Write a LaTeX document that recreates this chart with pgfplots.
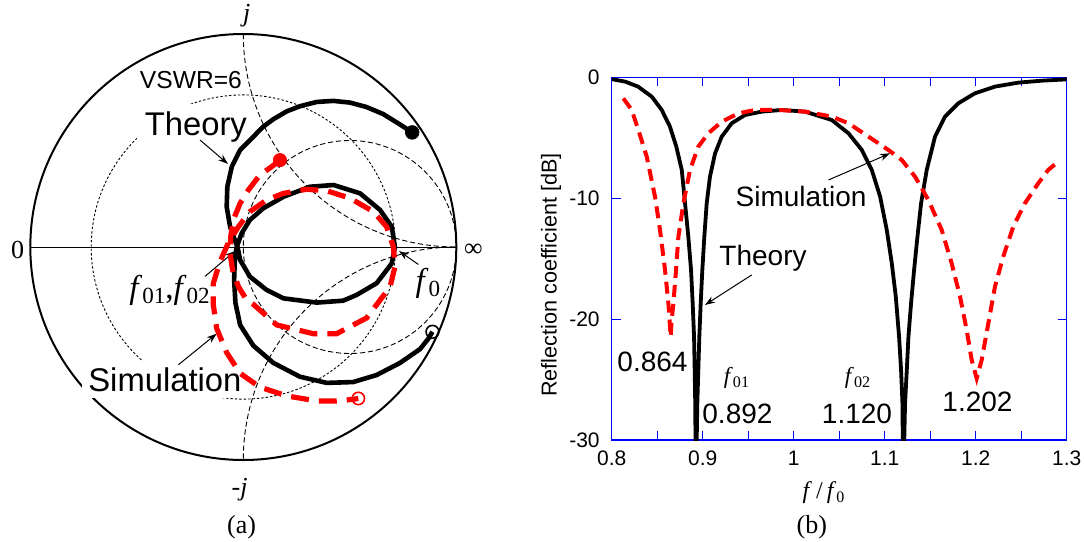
\documentclass[border=0pt]{standalone}
\usepackage{fontspec}
\setmainfont{Liberation Sans}
\newfontfamily\serif{Liberation Serif}
\usepackage{pgfplots}
\pgfplotsset{compat=1.18}
\usetikzlibrary{arrows.meta}
\newcommand{\fsz}[1]{\fontsize{#1}{#1}\selectfont}

\begin{document}
\begin{tikzpicture}
\path[use as bounding box] (0pt,0pt) rectangle (542pt,-271pt);

% ---------------- (a) Smith chart ----------------
\begin{axis}[at={(121.65pt,-123.5pt)}, anchor=origin,
  x=106.5pt, y=106.5pt, xmin=-1.1, xmax=1.1, ymin=-1.1, ymax=1.1,
  hide axis, clip=false]
  \draw[line width=1pt] (axis cs:0,0) circle[radius=106.5pt];
  \draw[line width=0.5pt] (axis cs:-1,0) -- (axis cs:1,0);
  \draw[line width=0.45pt, dash pattern=on 2.6pt off 1.4pt] (axis cs:0,1) arc[start angle=180,end angle=270,radius=106.5pt];
  \draw[line width=0.45pt, dash pattern=on 2.6pt off 1.4pt] (axis cs:1,0) arc[start angle=90,end angle=180,radius=106.5pt];
  \draw[line width=0.45pt, dash pattern=on 2.6pt off 1.4pt] (axis cs:0.5,0) circle[radius=53.25pt];
  \draw[line width=0.45pt, dash pattern=on 1.2pt off 1pt] (axis cs:0,0) circle[radius=76.05pt];

  \node[font=\serif\fsz{13}\itshape] at (axis cs:0.016,1.086) {j};
  \node[font=\serif\fsz{13}] at (axis cs:-0.017,-1.141) {-\textit{j}};
  \node[font=\serif\fsz{13}] at (axis cs:-1.059,-0.014) {0};
  \node[font=\serif\fsz{13}] at (axis cs:1.080,-0.017) {∞};
  \node[font=\serif\fsz{13}] at (axis cs:-0.008,-1.315) {(a)};
  \node[font=\fsz{12.3}, inner sep=1pt] at (axis cs:-0.246,0.784) {VSWR=6};
  \node[font=\fsz{16.4}, fill=white, inner sep=4pt] at (axis cs:-0.223,0.564) {Theory};
  \node[font=\fsz{16.4}, fill=white, inner sep=3pt] at (axis cs:-0.368,-0.622) {Simulation};
  \node[font=\serif\fsz{16.5}] at (axis cs:-0.344,-0.202) {\textit{f}\textsubscript{01}\kern-0.5pt,\textit{f}\textsubscript{02}};
  \node[font=\serif\fsz{16.5}] at (axis cs:0.869,-0.171) {\textit{f}\textsubscript{0}};

  \draw[-{Stealth[length=5pt,width=3.5pt]}, line width=0.5pt] (axis cs:-0.203,0.502) -- (axis cs:-0.072,0.390);
  \draw[-{Stealth[length=5pt,width=3.5pt]}, line width=0.5pt] (axis cs:-0.305,-0.553) -- (axis cs:-0.125,-0.407);
  \draw[-{Stealth[length=5pt,width=3.5pt]}, line width=0.5pt] (axis cs:-0.180,-0.138) -- (axis cs:-0.039,-0.019);
  \draw[-{Stealth[length=5pt,width=3.5pt]}, line width=0.5pt] (axis cs:0.822,-0.082) -- (axis cs:0.731,-0.019);

  % Theory
  \addplot[black, line width=2.3pt, line join=round] coordinates {
    (0.793,0.538) (0.736,0.575) (0.657,0.624) (0.579,0.657) (0.501,0.678)
    (0.423,0.686) (0.345,0.681) (0.266,0.661) (0.204,0.637) (0.141,0.600)
    (0.094,0.565) (0.063,0.534) (0.020,0.490) (-0.015,0.455) (-0.054,0.377)
    (-0.075,0.283) (-0.078,0.189) (-0.062,0.095) (-0.034,0.017) (-0.027,0.0)
    (-0.015,-0.061) (0.031,-0.139) (0.110,-0.202) (0.188,-0.241) (0.345,-0.261)
    (0.469,-0.252) (0.532,-0.225) (0.626,-0.170) (0.697,-0.077) (0.712,0.0)
    (0.697,0.095) (0.642,0.174) (0.548,0.252) (0.424,0.291) (0.313,0.283)
    (0.189,0.236) (0.094,0.182) (0.031,0.127) (-0.008,0.064) (-0.031,0.0)
    (-0.040,-0.060) (-0.043,-0.155) (-0.037,-0.262) (-0.015,-0.366) (0.047,-0.463)
    (0.141,-0.544) (0.266,-0.609) (0.392,-0.638) (0.516,-0.634) (0.626,-0.601)
    (0.736,-0.544) (0.830,-0.479) (0.869,-0.430) (0.888,-0.398)
  };
  % Simulation
  \addplot[red, line width=2.6pt, dash pattern=on 9pt off 5pt] coordinates {
    (0.172,0.408) (0.133,0.377) (0.078,0.338) (0.024,0.268) (-0.015,0.205)
    (-0.047,0.127) (-0.059,0.048) (-0.062,-0.030) (-0.050,-0.108) (-0.023,-0.186)
    (0.016,-0.249) (0.047,-0.269) (0.157,-0.366) (0.329,-0.407) (0.438,-0.407)
    (0.579,-0.333) (0.689,-0.187) (0.712,-0.092) (0.705,0.0) (0.673,0.095)
    (0.611,0.166) (0.501,0.229) (0.392,0.264) (0.297,0.271) (0.189,0.252)
    (0.110,0.221) (0.031,0.166) (-0.023,0.095) (-0.070,0.020) (-0.110,-0.070)
    (-0.141,-0.171) (-0.141,-0.269) (-0.125,-0.382) (-0.078,-0.496) (-0.015,-0.593)
    (0.078,-0.658) (0.204,-0.699) (0.345,-0.723) (0.438,-0.723) (0.516,-0.715)
    (0.540,-0.711)
  };
  \addplot[only marks, mark=*, mark size=3.4pt, black] coordinates {(0.793,0.538)};
  \addplot[only marks, mark=o, mark size=3.2pt, black, mark options={fill=white, line width=0.8pt}] coordinates {(0.888,-0.398)};
  \addplot[only marks, mark=*, mark size=3.3pt, red] coordinates {(0.172,0.408)};
  \addplot[only marks, mark=o, mark size=3.1pt, red, mark options={fill=white, line width=0.8pt}] coordinates {(0.540,-0.711)};
\end{axis}

% ---------------- (b) Reflection coefficient ----------------
\begin{axis}[at={(305.85pt,-220pt)}, anchor=south west, scale only axis,
  width=227.5pt, height=181.35pt,
  xmin=0.8, xmax=1.3, ymin=-30, ymax=0,
  xtick={0.8,0.9,1,1.1,1.2,1.3}, xticklabels={0.8,0.9,1,1.1,1.2,1.3},
  minor xtick={0.85,0.95,1.05,1.15,1.25},
  ytick={-30,-20,-10,0}, yticklabels={-30,-20,-10,0},
  major tick length=4.5pt, minor tick length=4.5pt, tick align=inside,
  axis line style={blue, line width=0.6pt},
  tick style={blue, line width=0.6pt},
  minor tick style={blue, line width=0.6pt},
  ticklabel style={font=\fsz{10.5}, text=black},
  xticklabel style={yshift=-2pt},
  yticklabel style={xshift=-2.5pt},
  xlabel={\serif\fsz{12}\textit{f}\,/\,\textit{f}\textsubscript{0}},
  xlabel style={at={(axis description cs:0.4666,-0.146)}, anchor=center},
  ylabel={Reflection coefficient [dB]},
  ylabel style={at={(axis description cs:-0.1334,0.455)}, anchor=center, font=\fsz{10.8}},
  clip mode=individual]
  \addplot[black, line width=1.9pt, line join=round] coordinates {
    (0.800,-0.15) (0.815,-0.36) (0.829,-0.77) (0.844,-1.60) (0.855,-2.70)
    (0.864,-4.08) (0.871,-5.73) (0.877,-7.66) (0.8806,-10.42) (0.8842,-13.18)
    (0.8872,-15.94) (0.889,-18.69) (0.8905,-21.45) (0.8912,-24.2) (0.8918,-26.96)
    (0.8922,-31) (0.8932,-31) (0.8941,-26.96) (0.8952,-24.2) (0.8963,-21.45)
    (0.8978,-18.69) (0.8996,-15.94) (0.9018,-13.18) (0.9044,-10.42) (0.908,-8.22)
    (0.9136,-6.29) (0.9209,-4.91) (0.9319,-3.80) (0.9465,-3.12) (0.9648,-2.84)
    (0.9868,-2.70) (1.0125,-2.84) (1.0418,-3.53) (1.0602,-4.63) (1.0749,-6.01)
    (1.0858,-7.66) (1.095,-9.87) (1.1023,-12.63) (1.1078,-15.38) (1.1122,-18.14)
    (1.1158,-21.45) (1.118,-24.2) (1.1195,-26.96) (1.1200,-31) (1.1212,-31)
    (1.1224,-26.96) (1.1243,-24.2) (1.1261,-21.45) (1.129,-18.69) (1.1323,-15.94)
    (1.136,-13.18) (1.14,-10.42) (1.1462,-7.66) (1.1553,-4.91) (1.1663,-3.25)
    (1.1809,-2.15) (1.1992,-1.32) (1.2212,-0.77) (1.2468,-0.44) (1.2724,-0.28)
    (1.3,-0.17)
  };
  \addplot[red, line width=2pt, dash pattern=on 6pt off 3.5pt] coordinates {
    (0.8128,-1.74) (0.822,-2.70) (0.8293,-4.36) (0.8385,-6.56) (0.8476,-9.87)
    (0.8531,-12.63) (0.8586,-15.94) (0.8623,-18.69) (0.8648,-21.45) (0.8659,-20.07)
    (0.8678,-18.69) (0.8707,-15.94) (0.8733,-13.18) (0.8788,-10.42) (0.8861,-7.66)
    (0.8952,-5.73) (0.9062,-4.63) (0.9209,-3.67) (0.9392,-2.98) (0.9575,-2.70)
    (0.9832,-2.70) (1.0125,-2.84) (1.0418,-3.25) (1.0602,-3.80) (1.0822,-4.91)
    (1.1041,-6.01) (1.1188,-6.84) (1.1334,-8.22) (1.148,-10.15) (1.1627,-12.63)
    (1.1736,-15.38) (1.1828,-18.14) (1.1901,-20.90) (1.1956,-23.38) (1.2011,-24.9)
    (1.2066,-23.38) (1.2139,-20.35) (1.2212,-17.31) (1.2303,-14.83) (1.2413,-12.35)
    (1.2541,-10.42) (1.2687,-8.77) (1.2797,-7.66) (1.2907,-6.98)
  };
  \node[font=\fsz{14}] at (axis cs:1.0081,-9.88) {Simulation};
  \draw[-{Stealth[length=5pt,width=3.5pt]}, line width=0.5pt] (axis cs:1.0383,-8.49) -- (axis cs:1.1058,-6.29);
  \node[font=\fsz{14}] at (axis cs:0.9663,-14.95) {Theory};
  \draw[-{Stealth[length=5pt,width=3.5pt]}, line width=0.5pt] (axis cs:0.9538,-16.35) -- (axis cs:0.9025,-18.83);
  \node[font=\fsz{14}] at (axis cs:0.8448,-23.52) {0.864};
  \node[font=\serif\fsz{11.5}] at (axis cs:0.9377,-24.87) {\textit{f}\textsubscript{01}};
  \node[font=\fsz{14}] at (axis cs:0.9382,-27.85) {0.892};
  \node[font=\serif\fsz{11.5}] at (axis cs:1.0707,-24.87) {\textit{f}\textsubscript{02}};
  \node[font=\fsz{14}] at (axis cs:1.0696,-27.85) {1.120};
  \node[font=\fsz{14}] at (axis cs:1.2020,-26.83) {1.202};
  \node[font=\serif\fsz{13}] at (axis description cs:0.44,-0.2398) {(b)};
\end{axis}
\end{tikzpicture}
\end{document}
